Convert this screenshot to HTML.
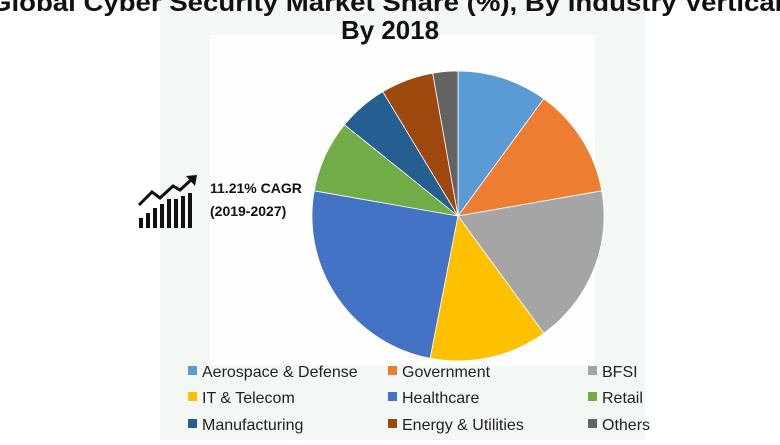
<!DOCTYPE html>
<html><head><meta charset="utf-8"><style>
html,body{margin:0;padding:0;background:#fff;}
body{width:780px;height:440px;overflow:hidden;position:relative;font-family:"Liberation Sans",sans-serif;}
</style></head><body>
<svg width="780" height="440" viewBox="0 0 780 440" xmlns="http://www.w3.org/2000/svg">
<rect x="160" y="0" width="485" height="440" fill="#f3f8f5"/>
<rect x="210" y="35" width="385" height="330" fill="#fdfefd"/>
<text x="390" y="11" text-anchor="middle" font-size="25" font-weight="bold" fill="#111" textLength="800" lengthAdjust="spacingAndGlyphs">Global Cyber Security Market Share (%), By Industry Vertical,</text>
<text x="390" y="39" text-anchor="middle" font-size="26" font-weight="bold" fill="#111" textLength="98" lengthAdjust="spacingAndGlyphs">By 2018</text>
<g stroke="#fff" stroke-width="0.8">
<path d="M458,216 L458,71 A146,145 0 0 1 543.8,98.7 Z" fill="#5B9BD5"/>
<path d="M458,216 L543.8,98.7 A146,145 0 0 1 601.8,190.8 Z" fill="#ED7D31"/>
<path d="M458,216 L601.8,190.8 A146,145 0 0 1 543.8,333.3 Z" fill="#A5A5A5"/>
<path d="M458,216 L543.8,333.3 A146,145 0 0 1 430.1,358.3 Z" fill="#FFC000"/>
<path d="M458,216 L430.1,358.3 A146,145 0 0 1 314.2,190.8 Z" fill="#4472C4"/>
<path d="M458,216 L314.2,190.8 A146,145 0 0 1 344.5,124.8 Z" fill="#70AD47"/>
<path d="M458,216 L344.5,124.8 A146,145 0 0 1 382.8,91.7 Z" fill="#255E91"/>
<path d="M458,216 L382.8,91.7 A146,145 0 0 1 432.7,73.2 Z" fill="#9E480E"/>
<path d="M458,216 L432.7,73.2 A146,145 0 0 1 458,71 Z" fill="#636363"/>
</g>
<g fill="#111">
<rect x="139" y="218" width="4" height="10"/>
<rect x="146" y="213" width="4" height="15"/>
<rect x="153" y="208" width="4" height="20"/>
<rect x="160" y="204" width="4" height="24"/>
<rect x="167" y="199" width="4" height="29"/>
<rect x="174" y="199" width="4" height="29"/>
<rect x="181" y="196" width="4" height="32"/>
<rect x="188" y="193" width="4" height="35"/>
</g>
<polyline points="139,205 152,192 160,198 173,186 180,190 191,180" fill="none" stroke="#111" stroke-width="3"/>
<polygon points="186,176 197,175 195,186" fill="#111"/>
<text x="210" y="193" font-size="14" font-weight="bold" fill="#111">11.21% CAGR</text>
<text x="210" y="216" font-size="14" font-weight="bold" fill="#111">(2019-2027)</text>
<g font-size="16" fill="#222">
<rect x="188" y="366" width="9" height="9" fill="#5B9BD5"/><text x="202" y="377">Aerospace &amp; Defense</text>
<rect x="388" y="366" width="9" height="9" fill="#ED7D31"/><text x="402" y="377">Government</text>
<rect x="588" y="366" width="9" height="9" fill="#A5A5A5"/><text x="602" y="377">BFSI</text>
<rect x="188" y="392" width="9" height="9" fill="#FFC000"/><text x="202" y="403">IT &amp; Telecom</text>
<rect x="388" y="392" width="9" height="9" fill="#4472C4"/><text x="402" y="403">Healthcare</text>
<rect x="588" y="392" width="9" height="9" fill="#70AD47"/><text x="602" y="403">Retail</text>
<rect x="188" y="419" width="9" height="9" fill="#255E91"/><text x="202" y="430">Manufacturing</text>
<rect x="388" y="419" width="9" height="9" fill="#9E480E"/><text x="402" y="430">Energy &amp; Utilities</text>
<rect x="588" y="419" width="9" height="9" fill="#636363"/><text x="602" y="430">Others</text>
</g>
</svg>
</body></html>
